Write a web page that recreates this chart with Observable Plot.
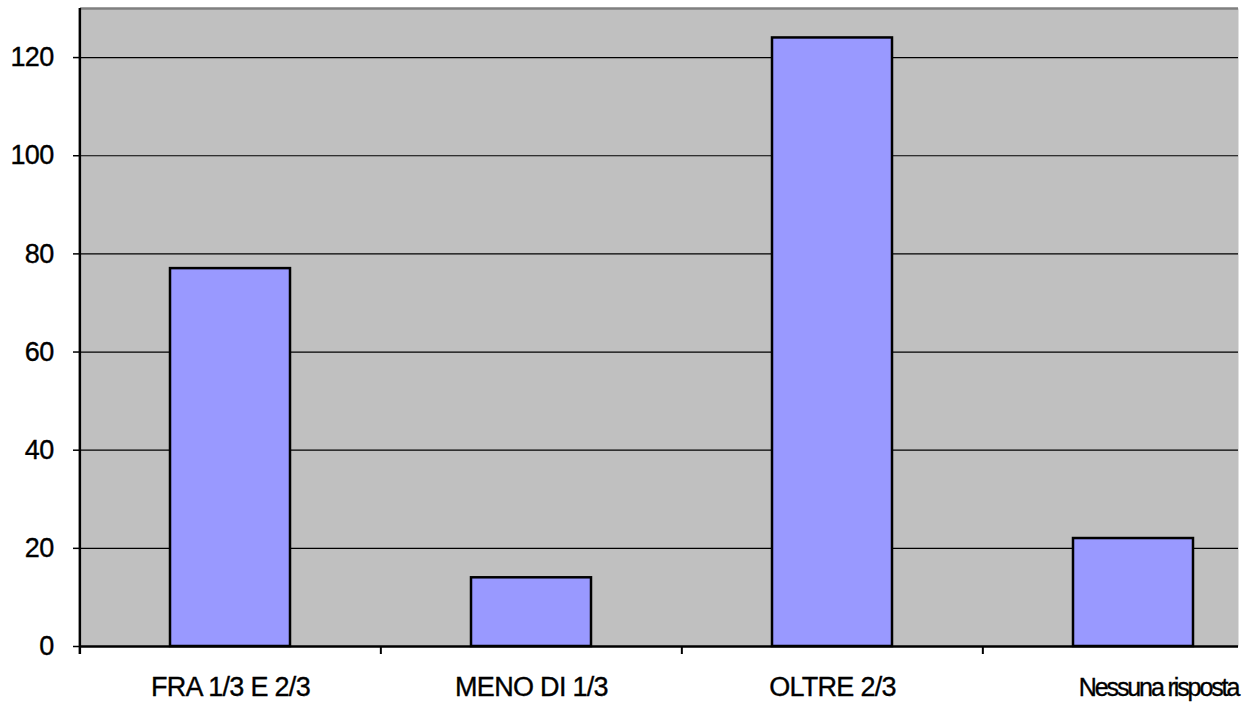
<!DOCTYPE html>
<html>
<head>
<meta charset="utf-8">
<script src="https://cdn.jsdelivr.net/npm/d3@7"></script>
<script src="https://cdn.jsdelivr.net/npm/@observablehq/plot@0.6"></script>
<style>
  html, body { margin: 0; padding: 0; background: #ffffff; }
  #chart svg { display: block; }
  #chart svg text { stroke: #000; stroke-width: 0.35px; }
</style>
</head>
<body>
<div id="chart"></div>
<script>
const categories = ["FRA 1/3 E 2/3", "MENO DI 1/3", "OLTRE 2/3", "Nessuna risposta"];
const values = [77, 14, 124, 22];
const yTicks = [0, 20, 40, 60, 80, 100, 120];

const data = categories.map((c, i) => ({category: c, value: values[i]}));

const W = 1251, H = 702;
const mL = 80, mR = 13, mT = 8, mB = 56;
const step = 301.3;
const font = "'Liberation Sans', Arial, sans-serif";

const chart = Plot.plot({
  width: W,
  height: H,
  marginLeft: mL,
  marginRight: mR,
  marginTop: mT,
  marginBottom: mB,
  style: {fontFamily: font, background: "#ffffff", overflow: "visible"},
  x: {domain: categories, paddingInner: 0.6, paddingOuter: 0.2217, align: 0.668, axis: null},
  y: {domain: [0, 130], axis: null},
  marks: [
    Plot.frame({fill: "#c0c0c0", stroke: null}),
    Plot.ruleY(yTicks.filter(d => d > 0), {stroke: "#000", strokeWidth: 1.2}),
    Plot.ruleY([130], {stroke: "#808080", strokeWidth: 2.5}),
    Plot.barY(data, {x: "category", y: "value", fill: "#9999ff", stroke: "#000", strokeWidth: 2.5}),
    Plot.ruleY([0], {stroke: "#000", strokeWidth: 2.5}),
    Plot.ruleY([0], {x1: categories[0], x2: categories[0], dx: -step / 2, stroke: "none"}),
    Plot.ruleX([0], {x: () => categories[0], dx: -step / 2, y1: 130, y2: -8 / 4.9, stroke: "#000", strokeWidth: 2.5, clip: false}),
    Plot.ruleX(categories.slice(1), {x: d => d, dx: -step / 2, y1: 0, y2: -8 / 4.9, stroke: "#000", strokeWidth: 2, clip: false}),
    Plot.axisY({ticks: yTicks, tickSize: 7, tickPadding: 20, fontSize: 27, tickFormat: d => String(d), label: null, stroke: "#000", strokeWidth: 1.5, fill: "#000"}),
    Plot.text(data.slice(0, 3), {x: "category", y: () => 0, text: "category", dy: 41, fontSize: 27, fill: "#000", lineAnchor: "middle", className: "lab"}),
    Plot.text(data.slice(3), {x: "category", y: () => 0, text: "category", dy: 41, dx: 25, fontSize: 25, fill: "#000", lineAnchor: "middle", className: "lab2"})
  ]
});

chart.querySelectorAll("text").forEach(t => t.style.letterSpacing = "-0.7px");
chart.querySelectorAll(".lab2 text").forEach(t => t.style.letterSpacing = "-2.1px");
document.getElementById("chart").appendChild(chart);
</script>
</body>
</html>
